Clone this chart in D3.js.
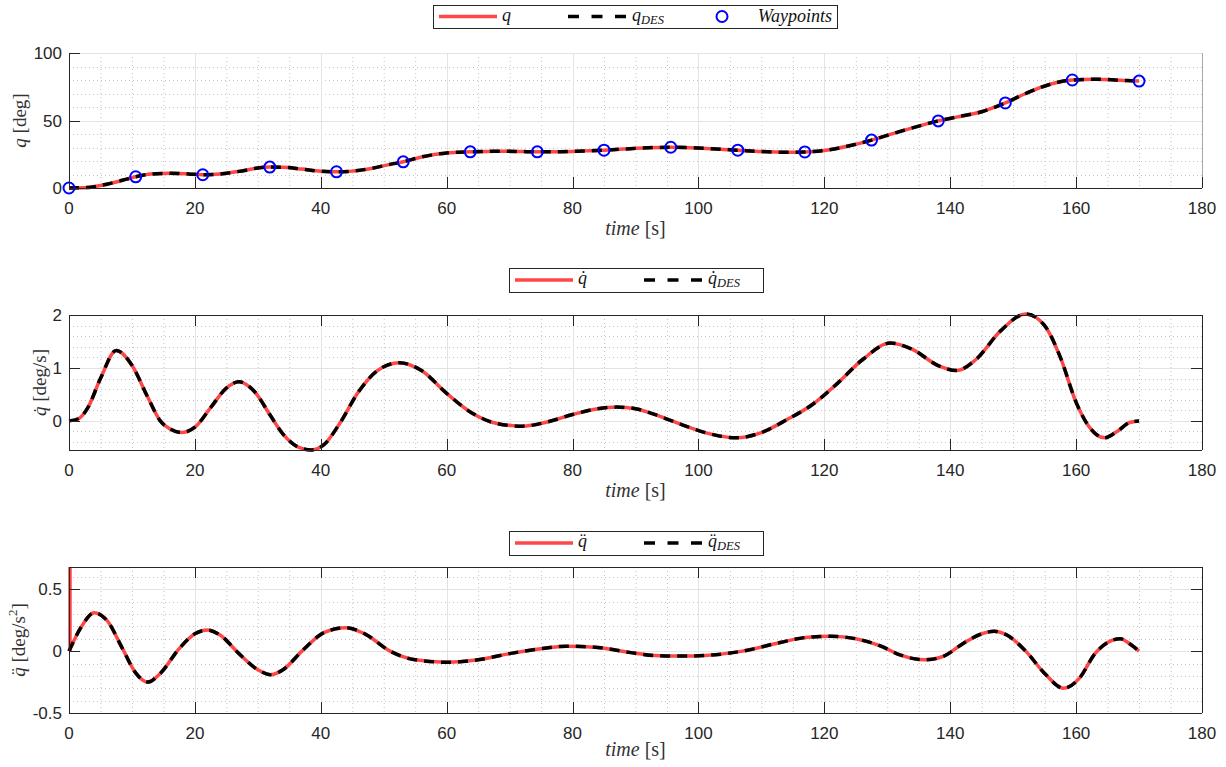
<!DOCTYPE html>
<html>
<head>
<meta charset="utf-8">
<script src="https://cdn.jsdelivr.net/npm/d3@7"></script>
<style>
    body { margin: 0; background: #fff; }
    svg { display: block; }
    .tick-label { font-family: "Liberation Sans", Arial, sans-serif; font-size: 17px; fill: #262626; }
    .tex { font-family: "Liberation Serif", "DejaVu Serif", serif; font-size: 19px; fill: #333; }
    .xlab { font-size: 20px; }
    .leg { font-family: "Liberation Serif", "DejaVu Serif", serif; font-size: 18px; fill: #111; font-style: italic; }
</style>
</head>
<body>
<svg id="chart" width="1226" height="767"></svg>
<script>
// ---- data ----
const timeTicks = [0, 20, 40, 60, 80, 100, 120, 140, 160, 180];

// waypoints of the joint trajectory
const wayT = [0, 10.6, 21.25, 31.9, 42.5, 53.1, 63.75, 74.4, 85, 95.6, 106.25, 116.9, 127.5, 138.1, 148.75, 159.4, 170];
const wayQ = [0, 8.3, 9.8, 15.5, 12, 19.4, 26.8, 26.8, 28, 30.2, 28, 26.7, 35.5, 49.7, 63, 80, 79.2];

// position q (measured and desired overlap)
const qT = [0, 3, 6, 8.5, 10.6, 13, 16, 19, 21.25, 24, 27, 30, 31.9, 34, 37, 40, 42.5, 45, 48, 51, 53.1, 56, 60, 63.75,
            68, 72, 74.4, 78, 82, 85, 88, 92, 95.6, 100, 104, 106.25, 110, 114, 116.9, 120, 124, 127.5, 131, 134,
            138.1, 141, 145, 148.75, 152, 156, 159.4, 163, 167, 170];
const qV = [0, 0.4, 2.8, 5.7, 8.3, 10.3, 10.9, 10.4, 9.8, 10.4, 12.3, 14.8, 15.5, 15.4, 14, 12.4, 12, 12.5, 14.5, 17.5,
            19.4, 23, 26, 26.8, 27.3, 27, 26.8, 26.9, 27.5, 28, 28.8, 29.8, 30.2, 29.6, 28.6, 28, 27, 26.5, 26.7, 27.8,
            31.3, 35.5, 40.5, 44.5, 49.7, 52.5, 56.5, 63, 70, 77, 80, 80.6, 79.8, 79.2];

// velocity qdot
const qdT = [0, 1.5, 3, 5, 7.5, 10, 12.5, 14.5, 16, 18, 20, 22.5, 25, 27, 29.5, 32, 34, 36.5, 38.5, 40.5, 43, 46, 49,
             52.5, 56, 60, 64, 68, 72, 76, 80, 84, 87, 90, 94, 98, 102, 106, 110, 114, 118, 122, 126, 130.5, 134,
             138, 141, 144, 148, 152, 155, 157.5, 160, 162, 164.5, 166.5, 168.5, 170];
const qdV = [0, 0.04, 0.25, 0.8, 1.33, 1.05, 0.45, 0.0, -0.15, -0.22, -0.12, 0.25, 0.62, 0.74, 0.55, 0.1, -0.25, -0.5,
             -0.55, -0.45, -0.05, 0.55, 0.95, 1.1, 0.95, 0.52, 0.15, -0.05, -0.1, -0.02, 0.12, 0.23, 0.26, 0.23, 0.08,
             -0.1, -0.25, -0.32, -0.22, 0.02, 0.3, 0.7, 1.15, 1.47, 1.35, 1.05, 0.95, 1.15, 1.7, 2.02, 1.8, 1.2, 0.35,
             -0.1, -0.32, -0.2, -0.03, 0];

// acceleration qddot
const qddT = [0, 2, 4, 6, 8.5, 10.5, 12.5, 14.5, 17.5, 20, 22, 24, 27, 30, 32, 34, 37, 40.5, 44, 47, 51, 55, 60, 65, 70,
              75, 79, 84, 89, 93, 97, 101, 107, 113, 117, 121, 125, 129, 132, 136, 139, 142, 145, 147, 149, 152, 155,
              158, 160.5, 163, 165, 167, 168.5, 170];
const qddV = [0, 0.2, 0.31, 0.25, 0.02, -0.17, -0.25, -0.18, 0.02, 0.14, 0.17, 0.13, -0.02, -0.15, -0.19, -0.15, 0.0,
              0.15, 0.19, 0.14, 0.0, -0.07, -0.09, -0.07, -0.02, 0.02, 0.04, 0.03, -0.01, -0.035, -0.04, -0.035, 0.0,
              0.07, 0.11, 0.12, 0.1, 0.04, -0.03, -0.07, -0.04, 0.06, 0.14, 0.16, 0.13, 0.0, -0.18, -0.3, -0.22,
              -0.02, 0.07, 0.1, 0.06, 0];
// measured acceleration has a start-up spike at t = 0
const qddSpikeT = [0, 0];
const qddSpikeV = [0.68, 0];

const lineRed = '#ff4747';

window.Vis = window.Vis || {};

Vis.init = function() {
    Vis.svg = d3.select('#chart');
    Vis.x = d3.scaleLinear().domain([0, 180]).range([69, 1202]);

    Vis.panels = [
        { top: 53, bottom: 188, domain: [0, 100], ticks: [0, 50, 100], minor: 10, box: false,
          ylabX: 26, ylab: [['q', true], [' [deg]', false]], xlabY: 235,
          legend: { x0: 433, x1: 837, y0: 5, y1: 28, dot: '' } },
        { top: 315, bottom: 450, domain: [-0.55, 2], ticks: [0, 1, 2], minor: 0.2, box: true,
          ylabX: 46, ylab: [['q\u0307', true], [' [deg/s]', false]], xlabY: 497,
          legend: { x0: 509, x1: 763, y0: 268, y1: 292, dot: '\u0307' } },
        { top: 567, bottom: 713, domain: [-0.5, 0.68], ticks: [-0.5, 0, 0.5], minor: 0.1, box: true,
          ylabX: 25, ylab: [['q\u0308', true], [' [deg/s', false], ['2', false, true], [']', false]], xlabY: 756,
          legend: { x0: 509, x1: 763, y0: 531, y1: 555, dot: '\u0308' } }
    ];

    Vis.panels.forEach(function(p) {
        p.y = d3.scaleLinear().domain(p.domain).range([p.bottom, p.top]);
        Vis.setup.grid(p);
    });

    Vis.setup.curves();
    Vis.panels.forEach(function(p) { Vis.setup.axes(p); });
    Vis.setup.legends();
};

Vis.setup = {
    grid: function(p) {
        let g = Vis.svg.append('g');
        let x = Vis.x, y = p.y;

        // minor grid (dotted)
        let minorX = d3.range(5, 181, 5).filter(function(d) { return d % 20 !== 0; });
        let lo = Math.ceil(p.domain[0] / p.minor), hi = Math.floor(p.domain[1] / p.minor);
        let minorY = d3.range(lo, hi + 1).map(function(k) { return +(k * p.minor).toFixed(3); })
                        .filter(function(d) { return p.ticks.indexOf(d) < 0 && d > p.domain[0]; });

        g.selectAll('.mx').data(minorX).enter().append('line')
            .attr('x1', function(d) { return x(d) + 0.5; }).attr('x2', function(d) { return x(d) + 0.5; })
            .attr('y1', p.top).attr('y2', p.bottom)
            .attr('stroke', '#c4c4c4').attr('stroke-width', 1).attr('stroke-dasharray', '1,3');
        g.selectAll('.my').data(minorY).enter().append('line')
            .attr('x1', x(0)).attr('x2', x(180))
            .attr('y1', function(d) { return Math.round(y(d)) + 0.5; }).attr('y2', function(d) { return Math.round(y(d)) + 0.5; })
            .attr('stroke', '#c4c4c4').attr('stroke-width', 1).attr('stroke-dasharray', '1,3');

        // major grid
        g.selectAll('.Mx').data(timeTicks.slice(1)).enter().append('line')
            .attr('x1', function(d) { return Math.round(x(d)) + 0.5; }).attr('x2', function(d) { return Math.round(x(d)) + 0.5; })
            .attr('y1', p.top).attr('y2', p.bottom)
            .attr('stroke', '#e3e3e3').attr('stroke-width', 1);
        g.selectAll('.My').data(p.ticks.filter(function(d) { return d !== p.domain[0]; })).enter().append('line')
            .attr('x1', x(0)).attr('x2', x(180))
            .attr('y1', function(d) { return Math.round(y(d)) + 0.5; }).attr('y2', function(d) { return Math.round(y(d)) + 0.5; })
            .attr('stroke', '#e3e3e3').attr('stroke-width', 1);
    },

    curves: function() {
        let x = Vis.x;
        let sets = [[qT, qV], [qdT, qdV], [qddT, qddV]];

        sets.forEach(function(s, i) {
            let p = Vis.panels[i];
            let line = d3.line()
                .x(function(d) { return x(d[0]); })
                .y(function(d) { return p.y(d[1]); })
                .curve(d3.curveMonotoneX);
            let pts = d3.zip(s[0], s[1]);

            Vis.svg.append('path').attr('d', line(pts))
                .attr('fill', 'none').attr('stroke', lineRed).attr('stroke-width', 3.5);

            if (i === 2) {
                Vis.svg.append('path')
                    .attr('d', d3.line().x(function(d) { return x(d[0]) + 1; }).y(function(d) { return p.y(d[1]); })(d3.zip(qddSpikeT, qddSpikeV)))
                    .attr('fill', 'none').attr('stroke', lineRed).attr('stroke-width', 3.5);
            }

            Vis.svg.append('path').attr('d', line(pts))
                .attr('fill', 'none').attr('stroke', '#000').attr('stroke-width', 3.5)
                .attr('stroke-dasharray', '10,7');
        });

        // waypoints
        let p0 = Vis.panels[0];
        Vis.svg.selectAll('circle.wp').data(d3.zip(wayT, wayQ)).enter().append('circle')
            .attr('cx', function(d) { return x(d[0]); })
            .attr('cy', function(d) { return p0.y(d[1]); })
            .attr('r', 5.5)
            .attr('fill', 'none').attr('stroke', '#0000ff').attr('stroke-width', 2);
    },

    axes: function(p) {
        let g = Vis.svg.append('g');
        let x = Vis.x, y = p.y;
        let axisCol = '#262626';
        let x0 = x(0), x1 = x(180);

        // box / axis lines
        g.append('line').attr('x1', x0).attr('x2', x1).attr('y1', p.bottom + 0.5).attr('y2', p.bottom + 0.5)
            .attr('stroke', axisCol);
        g.append('line').attr('x1', x0 + 0.5).attr('x2', x0 + 0.5).attr('y1', p.top).attr('y2', p.bottom)
            .attr('stroke', axisCol);
        g.append('line').attr('x1', x0).attr('x2', x1).attr('y1', p.top + 0.5).attr('y2', p.top + 0.5)
            .attr('stroke', p.box ? axisCol : '#e3e3e3');
        g.append('line').attr('x1', x1 + 0.5).attr('x2', x1 + 0.5).attr('y1', p.top).attr('y2', p.bottom)
            .attr('stroke', p.box ? axisCol : '#a8a8a8');

        // ticks (inward)
        let tl = 11;
        timeTicks.forEach(function(t) {
            let xx = Math.round(x(t)) + 0.5;
            g.append('line').attr('x1', xx).attr('x2', xx).attr('y1', p.bottom).attr('y2', p.bottom - tl).attr('stroke', axisCol);
            if (p.box) g.append('line').attr('x1', xx).attr('x2', xx).attr('y1', p.top).attr('y2', p.top + tl).attr('stroke', axisCol);
            g.append('text').attr('class', 'tick-label').attr('x', x(t)).attr('y', p.bottom + 26)
                .attr('text-anchor', 'middle').text(t);
        });
        p.ticks.forEach(function(v) {
            let yy = Math.round(y(v)) + 0.5;
            g.append('line').attr('x1', x0).attr('x2', x0 + tl).attr('y1', yy).attr('y2', yy).attr('stroke', axisCol);
            if (p.box) g.append('line').attr('x1', x1).attr('x2', x1 - tl).attr('y1', yy).attr('y2', yy).attr('stroke', axisCol);
            g.append('text').attr('class', 'tick-label').attr('x', 62).attr('y', y(v) + 6)
                .attr('text-anchor', 'end').text(v);
        });

        // x label
        let xl = g.append('text').attr('class', 'tex xlab').attr('x', (x0 + x1) / 2).attr('y', p.xlabY).attr('text-anchor', 'middle');
        xl.append('tspan').attr('font-style', 'italic').text('time');
        xl.append('tspan').text(' [s]');

        // y label
        let yl = g.append('text').attr('class', 'tex').attr('text-anchor', 'middle')
            .attr('transform', 'translate(' + p.ylabX + ',' + ((p.top + p.bottom) / 2) + ') rotate(-90)');
        p.ylab.forEach(function(part) {
            let ts = yl.append('tspan').text(part[0]);
            if (part[1]) ts.attr('font-style', 'italic');
            if (part[2]) ts.attr('font-size', '13px').attr('dy', -8);
            else if (part[0] === ']' ) ts.attr('dy', 8);
        });
    },

    legends: function() {
        Vis.panels.forEach(function(p, i) {
            let L = p.legend;
            let g = Vis.svg.append('g');
            let cy = (L.y0 + L.y1) / 2;
            g.append('rect').attr('x', L.x0 + 0.5).attr('y', L.y0 + 0.5)
                .attr('width', L.x1 - L.x0).attr('height', L.y1 - L.y0)
                .attr('fill', '#fff').attr('stroke', '#262626');

            let rx = L.x0 + 6, bx = L.x0 + 135;
            g.append('line').attr('x1', rx).attr('x2', rx + 58).attr('y1', cy).attr('y2', cy)
                .attr('stroke', lineRed).attr('stroke-width', 3.5);
            g.append('text').attr('class', 'leg').attr('x', rx + 63).attr('y', cy + 4).text('q' + L.dot);

            g.append('line').attr('x1', bx).attr('x2', bx + 59).attr('y1', cy).attr('y2', cy)
                .attr('stroke', '#000').attr('stroke-width', 3.5).attr('stroke-dasharray', '11,12.5');
            let t = g.append('text').attr('class', 'leg').attr('x', bx + 64).attr('y', cy + 4);
            t.append('tspan').text('q' + L.dot);
            t.append('tspan').attr('font-size', '12.5px').attr('dy', 3).text('DES');

            if (i === 0) {
                g.append('circle').attr('cx', 722).attr('cy', cy).attr('r', 5.5)
                    .attr('fill', 'none').attr('stroke', '#0000ff').attr('stroke-width', 2);
                g.append('text').attr('class', 'leg').attr('x', 832).attr('y', cy + 5)
                    .attr('text-anchor', 'end').text('Waypoints');
            }
        });
    }
};

document.addEventListener('DOMContentLoaded', Vis.init);
</script>
</body>
</html>
